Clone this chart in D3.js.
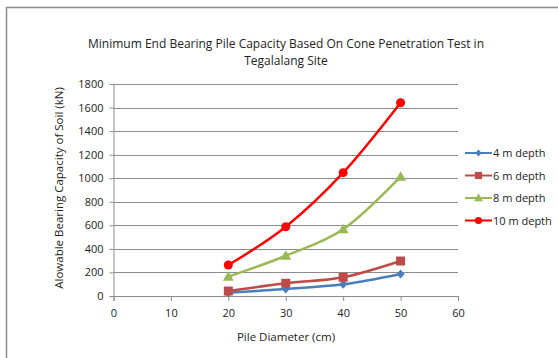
<!DOCTYPE html>
<html><head><meta charset="utf-8">
<script src="https://cdn.jsdelivr.net/npm/d3@7"></script>
<style>body{margin:0;background:#fff}svg{display:block}</style>
</head><body>
<svg id="c" width="558" height="358"></svg>
<script>
const diameters = [20, 30, 40, 50];
const depth4 = [28, 59, 99, 187];
const depth6 = [42, 108, 159, 297];
const depth8 = [164, 342, 566, 1013];
const depth10 = [263, 588, 1047, 1641];
const seriesNames = ["4 m depth", "6 m depth", "8 m depth", "10 m depth"];
const seriesColors = ["#4a7ebb", "#be4b48", "#98b954", "#ff0000"];
const seriesShapes = ["diamond", "square", "triangle", "circle"];
const xTicks = [0, 10, 20, 30, 40, 50, 60];
const yTicks = [0, 200, 400, 600, 800, 1000, 1200, 1400, 1600, 1800];
const titleLines = ["Minimum End Bearing Pile Capacity Based On Cone Penetration Test in", "Tegalalang Site"];

const font = "'Open Sans', 'Liberation Sans', sans-serif";
const svg = d3.select("#c");
const x = d3.scaleLinear().domain([0, 60]).range([113.5, 458]);
const y = d3.scaleLinear().domain([0, 1800]).range([296, 84]);

// frame
svg.append("path").attr("d", "M6.5,358 V7.5 H558").attr("fill", "none").attr("stroke", "#8c8c8c").attr("stroke-width", 1.5);

// title
svg.append("g").selectAll("text").data(titleLines).join("text")
  .attr("x", 286).attr("y", (d, i) => 48 + i * 17)
  .attr("text-anchor", "middle").attr("font-family", font).attr("font-size", 12).attr("fill", "#222")
  .attr("textLength", (d, i) => i === 0 ? 396 : null)
  .text(d => d);

// gridlines
svg.append("g").selectAll("line").data(yTicks.slice(1)).join("line")
  .attr("x1", x(0)).attr("x2", x(60)).attr("y1", d => Math.round(y(d)) + 0.5).attr("y2", d => Math.round(y(d)) + 0.5)
  .attr("stroke", "#8c8c8c").attr("stroke-width", 1);

// y axis
const ya = svg.append("g").attr("transform", `translate(${x(0)},0)`)
  .call(d3.axisLeft(y).tickValues(yTicks).tickFormat(d3.format("d")).tickSize(4).tickPadding(6));
ya.select(".domain").attr("stroke", "#8c8c8c");
ya.selectAll(".tick line").attr("stroke", "#8c8c8c");
ya.selectAll("text").attr("font-family", font).attr("font-size", 11).attr("fill", "#222");

// x axis
const xa = svg.append("g").attr("transform", `translate(0,${y(0)})`)
  .call(d3.axisBottom(x).tickValues(xTicks).tickFormat(d3.format("d")).tickSize(5).tickPadding(8));
xa.select(".domain").attr("stroke", "#8c8c8c");
xa.selectAll(".tick line").attr("stroke", "#8c8c8c");
xa.selectAll("text").attr("font-family", font).attr("font-size", 11).attr("fill", "#222");

// axis titles
svg.append("text").attr("x", 286).attr("y", 341).attr("text-anchor", "middle")
  .attr("font-family", font).attr("font-size", 11.5).attr("fill", "#222").text("Pile Diameter (cm)");
svg.append("text").attr("transform", "translate(63,188) rotate(-90)").attr("text-anchor", "middle")
  .attr("font-family", font).attr("font-size", 11.5).attr("fill", "#222").text("Alowable Bearing Capacity of Soil (kN)");

const allSeries = [depth4, depth6, depth8, depth10];
const line = d3.line().x(d => x(d[0])).y(d => y(d[1])).curve(d3.curveCatmullRom.alpha(0));

function marker(g, shape, color, cx, cy, scale) {
  const s = scale || 1;
  if (shape === "diamond") g.append("path").attr("d", `M${cx},${cy-4.5*s}L${cx+4*s},${cy}L${cx},${cy+4.5*s}L${cx-4*s},${cy}Z`).attr("fill", color);
  else if (shape === "square") g.append("rect").attr("x", cx-4.5*s).attr("y", cy-4.5*s).attr("width", 9*s).attr("height", 9*s).attr("fill", color);
  else if (shape === "triangle") g.append("path").attr("d", `M${cx},${cy-5.5*s}L${cx+5.5*s},${cy+4*s}L${cx-5.5*s},${cy+4*s}Z`).attr("fill", color);
  else g.append("circle").attr("cx", cx).attr("cy", cy).attr("r", 4.5*s).attr("fill", color);
}

allSeries.forEach((vals, i) => {
  const pts = diameters.map((d, j) => [d, vals[j]]);
  const g = svg.append("g");
  g.append("path").attr("d", line(pts)).attr("fill", "none").attr("stroke", seriesColors[i]).attr("stroke-width", 2.5);
  pts.forEach(p => marker(g, seriesShapes[i], seriesColors[i], x(p[0]), y(p[1])));
});

// legend
const lg = svg.append("g");
seriesNames.forEach((n, i) => {
  const ly = 153 + i * 22.5;
  lg.append("line").attr("x1", 465).attr("x2", 492).attr("y1", ly).attr("y2", ly).attr("stroke", seriesColors[i]).attr("stroke-width", 2);
  marker(lg, seriesShapes[i], seriesColors[i], 478.5, ly, 0.8);
  lg.append("text").attr("x", 493).attr("y", ly + 4).attr("font-family", font).attr("font-size", 11).attr("fill", "#222").text(n);
});
</script>
</body></html>
